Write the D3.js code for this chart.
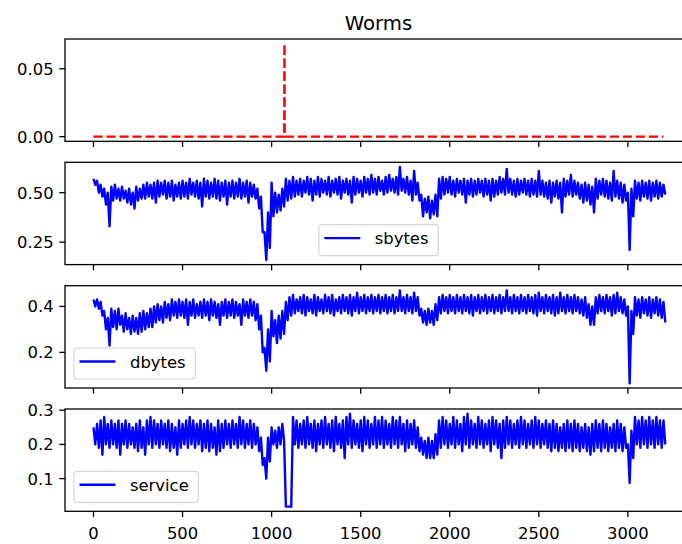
<!DOCTYPE html>
<html>
<head>
<meta charset="utf-8">
<script src="https://cdn.jsdelivr.net/npm/d3@7"></script>
<style>
body{margin:0;background:#fff}
svg text{font-family:"DejaVu Sans",sans-serif;fill:#000}
</style>
</head>
<body>
<div id="app"></div>
<script>

var step = 20

var wormsX = [0, 1071, 1072, 1073, 3199]
var wormsY = [0, 0, 0.0685, 0, 0]

var sbytesHi = [0.57,0.56,0.54,0.52,0.50,0.53,0.54,0.52,0.53,0.51,
  0.52,0.50,0.53,0.52,0.54,0.55,0.54,0.55,0.56,0.55,
  0.56,0.55,0.56,0.54,0.55,0.56,0.55,0.57,0.55,0.56,
  0.55,0.57,0.56,0.55,0.57,0.56,0.55,0.56,0.55,0.56,
  0.55,0.57,0.55,0.56,0.55,0.54,0.52,0.48,0.30,0.40,
  0.55,0.50,0.49,0.52,0.57,0.56,0.58,0.56,0.57,0.56,
  0.58,0.57,0.56,0.58,0.57,0.56,0.58,0.56,0.57,0.58,
  0.56,0.57,0.56,0.58,0.57,0.56,0.58,0.57,0.59,0.57,
  0.58,0.56,0.58,0.59,0.57,0.58,0.63,0.57,0.58,0.56,
  0.61,0.55,0.49,0.47,0.48,0.46,0.49,0.57,0.58,0.57,
  0.58,0.56,0.57,0.56,0.57,0.56,0.57,0.56,0.57,0.56,
  0.57,0.56,0.57,0.56,0.58,0.57,0.62,0.57,0.56,0.57,
  0.56,0.57,0.56,0.57,0.56,0.61,0.56,0.55,0.56,0.55,
  0.56,0.55,0.57,0.56,0.59,0.56,0.55,0.54,0.55,0.54,
  0.53,0.57,0.56,0.57,0.56,0.55,0.61,0.56,0.55,0.54,
  0.50,0.52,0.56,0.55,0.56,0.55,0.56,0.55,0.56,0.55,
  0.54]
var sbytesLo = [0.54,0.50,0.48,0.44,0.33,0.46,0.47,0.46,0.47,0.45,
  0.44,0.42,0.46,0.47,0.47,0.48,0.47,0.45,0.48,0.49,
  0.47,0.48,0.46,0.48,0.47,0.48,0.47,0.49,0.48,0.47,
  0.43,0.48,0.47,0.48,0.47,0.46,0.48,0.44,0.48,0.47,
  0.48,0.47,0.48,0.45,0.48,0.47,0.42,0.30,0.16,0.22,
  0.38,0.40,0.41,0.43,0.46,0.47,0.48,0.49,0.48,0.50,
  0.49,0.46,0.49,0.48,0.50,0.49,0.48,0.50,0.49,0.47,
  0.50,0.49,0.45,0.49,0.50,0.48,0.50,0.49,0.50,0.49,
  0.51,0.49,0.50,0.51,0.50,0.49,0.51,0.50,0.49,0.46,
  0.49,0.46,0.38,0.40,0.37,0.39,0.38,0.47,0.49,0.50,
  0.49,0.48,0.50,0.49,0.45,0.49,0.48,0.49,0.50,0.48,
  0.49,0.46,0.48,0.49,0.50,0.49,0.50,0.49,0.48,0.49,
  0.50,0.49,0.48,0.49,0.48,0.49,0.48,0.47,0.45,0.48,
  0.47,0.40,0.48,0.49,0.48,0.49,0.47,0.45,0.46,0.44,
  0.40,0.47,0.49,0.48,0.47,0.46,0.48,0.47,0.45,0.46,
  0.21,0.38,0.47,0.46,0.48,0.47,0.46,0.48,0.47,0.48,
  0.49]

var dbytesHi = [0.43,0.43,0.42,0.38,0.35,0.39,0.38,0.39,0.36,0.37,
  0.35,0.36,0.35,0.37,0.38,0.37,0.39,0.40,0.41,0.40,
  0.42,0.41,0.43,0.42,0.43,0.42,0.43,0.42,0.43,0.41,
  0.42,0.43,0.42,0.43,0.42,0.41,0.42,0.43,0.42,0.43,
  0.42,0.41,0.43,0.42,0.43,0.42,0.41,0.36,0.22,0.30,
  0.38,0.34,0.36,0.38,0.42,0.44,0.45,0.43,0.44,0.45,
  0.44,0.43,0.45,0.44,0.43,0.45,0.44,0.45,0.43,0.44,
  0.45,0.44,0.45,0.44,0.46,0.44,0.45,0.44,0.45,0.44,
  0.45,0.44,0.45,0.44,0.45,0.44,0.47,0.44,0.45,0.44,
  0.46,0.44,0.39,0.38,0.39,0.38,0.41,0.44,0.45,0.44,
  0.45,0.44,0.45,0.44,0.45,0.44,0.45,0.44,0.45,0.44,
  0.45,0.44,0.45,0.44,0.45,0.44,0.47,0.44,0.45,0.44,
  0.45,0.44,0.45,0.44,0.45,0.46,0.44,0.45,0.44,0.45,
  0.44,0.46,0.44,0.45,0.44,0.45,0.44,0.43,0.44,0.41,
  0.40,0.44,0.45,0.44,0.45,0.44,0.45,0.46,0.44,0.43,
  0.40,0.38,0.44,0.43,0.44,0.43,0.44,0.43,0.44,0.43,
  0.42]
var dbytesLo = [0.40,0.39,0.36,0.30,0.23,0.31,0.30,0.32,0.29,0.30,
  0.28,0.29,0.28,0.29,0.30,0.31,0.31,0.33,0.34,0.33,
  0.35,0.34,0.36,0.35,0.36,0.35,0.32,0.36,0.35,0.36,
  0.35,0.36,0.34,0.36,0.35,0.32,0.36,0.35,0.36,0.35,
  0.36,0.32,0.36,0.35,0.36,0.34,0.30,0.20,0.12,0.16,
  0.27,0.24,0.26,0.28,0.34,0.36,0.37,0.38,0.37,0.36,
  0.38,0.37,0.36,0.38,0.37,0.38,0.37,0.36,0.38,0.37,
  0.38,0.37,0.36,0.38,0.37,0.38,0.37,0.38,0.37,0.38,
  0.37,0.38,0.37,0.38,0.37,0.38,0.38,0.37,0.38,0.37,
  0.38,0.36,0.33,0.32,0.33,0.32,0.34,0.37,0.38,0.37,
  0.38,0.37,0.38,0.37,0.38,0.37,0.36,0.38,0.37,0.38,
  0.37,0.38,0.37,0.38,0.37,0.38,0.38,0.37,0.38,0.37,
  0.38,0.37,0.38,0.37,0.36,0.38,0.37,0.38,0.37,0.36,
  0.37,0.38,0.37,0.38,0.37,0.38,0.37,0.36,0.35,0.32,
  0.32,0.37,0.38,0.37,0.38,0.36,0.37,0.38,0.37,0.36,
  0.065,0.28,0.36,0.35,0.37,0.36,0.35,0.37,0.36,0.35,
  0.33]

var serviceHi = [0.25,0.26,0.27,0.28,0.26,0.27,0.26,0.27,0.26,0.27,
  0.26,0.25,0.26,0.27,0.25,0.27,0.28,0.27,0.26,0.27,
  0.26,0.27,0.26,0.25,0.27,0.26,0.27,0.28,0.27,0.26,
  0.27,0.26,0.27,0.26,0.25,0.27,0.26,0.27,0.26,0.27,
  0.26,0.28,0.27,0.26,0.27,0.26,0.25,0.22,0.16,0.22,
  0.25,0.24,0.25,0.26,0.018,0.018,0.28,0.27,0.26,0.27,
  0.28,0.26,0.27,0.26,0.27,0.28,0.26,0.27,0.28,0.26,
  0.27,0.28,0.29,0.27,0.26,0.27,0.28,0.27,0.26,0.28,
  0.27,0.28,0.27,0.26,0.28,0.27,0.28,0.26,0.27,0.26,
  0.27,0.25,0.22,0.21,0.22,0.21,0.23,0.27,0.28,0.27,
  0.26,0.28,0.27,0.26,0.28,0.29,0.27,0.26,0.28,0.27,
  0.26,0.27,0.28,0.27,0.26,0.27,0.28,0.27,0.26,0.27,
  0.28,0.27,0.26,0.27,0.28,0.27,0.26,0.27,0.26,0.27,
  0.26,0.25,0.26,0.27,0.26,0.27,0.26,0.25,0.26,0.25,
  0.26,0.27,0.26,0.27,0.26,0.25,0.26,0.27,0.26,0.25,
  0.20,0.24,0.28,0.27,0.28,0.27,0.28,0.27,0.28,0.27,
  0.27]
var serviceLo = [0.20,0.19,0.17,0.20,0.19,0.20,0.19,0.17,0.20,0.19,
  0.20,0.19,0.18,0.19,0.17,0.20,0.19,0.20,0.19,0.20,
  0.19,0.18,0.19,0.17,0.19,0.20,0.19,0.20,0.19,0.20,
  0.18,0.19,0.18,0.19,0.17,0.18,0.19,0.20,0.19,0.20,
  0.19,0.20,0.19,0.20,0.19,0.20,0.18,0.14,0.10,0.15,
  0.20,0.19,0.20,0.21,0.018,0.018,0.20,0.19,0.20,0.19,
  0.20,0.19,0.18,0.20,0.19,0.20,0.19,0.18,0.20,0.19,
  0.16,0.20,0.19,0.20,0.19,0.18,0.20,0.19,0.20,0.19,
  0.20,0.19,0.20,0.19,0.20,0.19,0.20,0.18,0.19,0.20,
  0.19,0.18,0.17,0.16,0.16,0.16,0.17,0.19,0.20,0.19,
  0.20,0.19,0.20,0.18,0.20,0.19,0.20,0.19,0.20,0.19,
  0.20,0.18,0.20,0.19,0.16,0.19,0.20,0.19,0.20,0.19,
  0.20,0.19,0.20,0.19,0.20,0.19,0.20,0.19,0.18,0.19,
  0.18,0.19,0.18,0.19,0.18,0.19,0.18,0.19,0.18,0.17,
  0.18,0.19,0.18,0.19,0.18,0.19,0.18,0.19,0.18,0.19,
  0.087,0.16,0.20,0.19,0.20,0.19,0.20,0.19,0.20,0.19,
  0.20]

var xTicks = [0, 500, 1000, 1500, 2000, 2500, 3000]
var wormsTicks = [0, 0.05]
var sbytesTicks = [0.25, 0.5]
var dbytesTicks = [0.2, 0.4]
var serviceTicks = [0.1, 0.2, 0.3]

var title = "Worms"

var width = 682, height = 544
var left = 65, right = 692
var panelTops = [39, 162.3, 285.7, 409]
var panelH = 102.3
var fontSize = 16.4
var tickLen = 5.7

var svg = d3.select("#app").append("svg")
  .attr("width", width)
  .attr("height", height)
svg.append("rect").attr("width", width).attr("height", height).attr("fill", "#fff")

// matplotlib style 5% autoscale margin
function padded(ext){
  var r = ext[1]-ext[0]
  return [ext[0]-0.05*r, ext[1]+0.05*r]
}

// each bin: upper value then lower value, half a bin apart
function toPoints(hi, lo){
  var pts = []
  hi.forEach((v,i)=>{
    pts.push({x:i*step, y:v})
    pts.push({x:i*step+step/2, y:lo[i]})
  })
  return pts
}

var allX = d3.extent([0, (sbytesHi.length-1)*step].concat(wormsX))
var x = d3.scaleLinear().domain(padded(allX)).range([left, right])

var panels = [
  {pts: wormsX.map((d,i)=>({x:d, y:wormsY[i]})), ticks: wormsTicks, fmt: d3.format(".2f"), colour: "#ff0000", dashed: true},
  {pts: toPoints(sbytesHi, sbytesLo), ticks: sbytesTicks, fmt: d3.format(".2f"), colour: "#0000ff", name: "sbytes", legend: "center"},
  {pts: toPoints(dbytesHi, dbytesLo), ticks: dbytesTicks, fmt: d3.format(".1f"), colour: "#0000ff", name: "dbytes", legend: "left"},
  {pts: toPoints(serviceHi, serviceLo), ticks: serviceTicks, fmt: d3.format(".1f"), colour: "#0000ff", name: "service", legend: "left"}
]

function drawPanel(p, k){
  var top = panelTops[k], bottom = top+panelH
  var y = d3.scaleLinear().domain(padded(d3.extent(p.pts, d=>d.y))).range([bottom, top])
  var g = svg.append("g")

  g.append("clipPath").attr("id", "clip"+k)
    .append("rect").attr("x", left).attr("y", top).attr("width", right-left).attr("height", panelH)

  var line = d3.line().x(d=>x(d.x)).y(d=>y(d.y))
  var path = g.append("path").datum(p.pts)
    .attr("d", line)
    .attr("clip-path", "url(#clip"+k+")")
    .attr("fill", "none")
    .attr("stroke", p.colour)
    .attr("stroke-width", 2.4)
    .attr("stroke-linejoin", "round")
  if (p.dashed){ path.attr("stroke-dasharray", "9.1,3.9") }

  // frame
  g.append("rect").attr("x", left).attr("y", top).attr("width", right-left).attr("height", panelH)
    .attr("fill", "none").attr("stroke", "#000").attr("stroke-width", 1.3)

  // y ticks
  var yt = g.selectAll(".yt").data(p.ticks).enter().append("g")
    .attr("transform", d=>"translate(0,"+y(d)+")")
  yt.append("line").attr("x1", left-tickLen).attr("x2", left).attr("stroke", "#000").attr("stroke-width", 1.3)
  yt.append("text").text(p.fmt)
    .attr("x", left-tickLen-5.7).attr("y", 0.3645*fontSize)
    .attr("text-anchor", "end").style("font-size", fontSize+"px")

  // x ticks, labels only on the last panel
  var xt = g.selectAll(".xt").data(xTicks).enter().append("g")
    .attr("transform", d=>"translate("+x(d)+","+bottom+")")
  xt.append("line").attr("y1", 0).attr("y2", tickLen).attr("stroke", "#000").attr("stroke-width", 1.3)
  if (k == panels.length-1){
    xt.append("text").text(d=>d)
      .attr("y", 27.4).attr("text-anchor", "middle").style("font-size", fontSize+"px")
  }

  if (p.name){
    var lg = g.append("g")
    var box = lg.append("rect")
    var txt = lg.append("text").text(p.name).style("font-size", fontSize+"px")
    var tw = txt.node().getComputedTextLength()
    var bw = 56.7 + tw + 9, bh = 31
    var bx = p.legend == "center" ? (left+right)/2 - bw/2 : left+9
    var by = bottom - 9 - bh
    box.attr("x", bx).attr("y", by).attr("width", bw).attr("height", bh)
      .attr("rx", 3.3).attr("fill", "#fff").attr("fill-opacity", 0.8)
      .attr("stroke", "#d6d6d6").attr("stroke-width", 1.2)
    lg.append("line").attr("x1", bx+5.5).attr("x2", bx+41.5)
      .attr("y1", by+13.5).attr("y2", by+13.5)
      .attr("stroke", p.colour).attr("stroke-width", 2.4)
    txt.attr("x", bx+56).attr("y", by+19.5)
  }
}

panels.forEach(drawPanel)

svg.append("text").text(title)
  .attr("x", (left+right)/2).attr("y", 29.5)
  .attr("text-anchor", "middle").style("font-size", "19.7px")

</script>
</body>
</html>
